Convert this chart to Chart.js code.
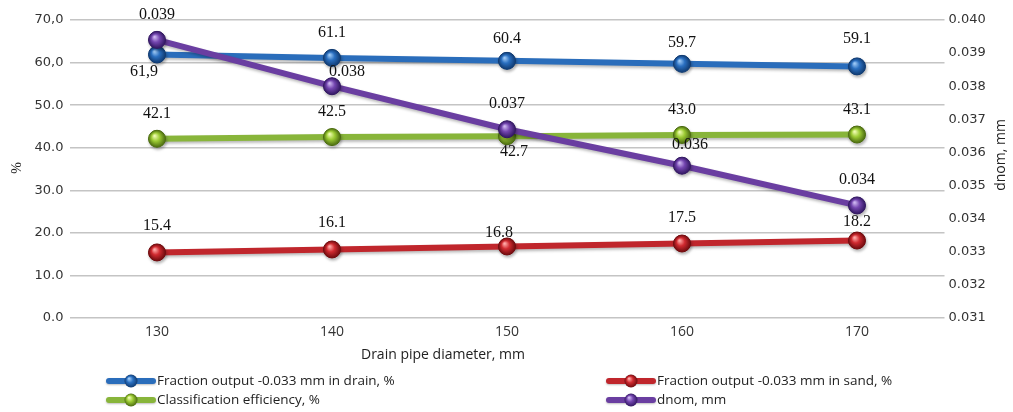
<!DOCTYPE html>
<html>
<head>
<meta charset="utf-8">
<script src="https://cdn.jsdelivr.net/npm/chart.js@4/dist/chart.umd.min.js"></script>
<style>
  html, body { margin: 0; padding: 0; background: #fff; }
  #wrap { width: 1013px; height: 412px; position: relative; }
</style>
</head>
<body>
<div id="wrap"><canvas id="c" width="1013" height="412"></canvas></div>
<script>
// Drain pipe diameter categories (mm)
const categories = ['130', '140', '150', '160', '170'];

// Series values
const drainFraction = [61.9, 61.1, 60.4, 59.7, 59.1];   // %
const sandFraction = [15.4, 16.1, 16.8, 17.5, 18.2];    // %
const efficiency = [42.1, 42.5, 42.7, 43.0, 43.1];      // %
const dnom = [0.0394, 0.0380, 0.0367, 0.0356, 0.0344];  // mm

// Axis tick labels
const leftTickLabels = ['0.0', '10.0', '20.0', '30.0', '40.0', '50.0', '60,0', '70,0'];
const rightTickValues = [0.031, 0.032, 0.033, 0.034, 0.035, 0.036, 0.037, 0.038, 0.039, 0.040];

// Series names
const seriesNames = [
  'Fraction output -0.033 mm in drain, %',
  'Fraction output -0.033 mm in sand, %',
  'Classification efficiency, %',
  'dnom, mm'
];

// Styling
const palette = [
  { line: '#2a6dbb', ball: '#2a6fc0', light: '#9cc8f5', dark: '#103a70' },
  { line: '#c0262c', ball: '#d02a30', light: '#ffaaa8', dark: '#6e0b0e' },
  { line: '#88b53a', ball: '#9ccb34', light: '#eefbb0', dark: '#4a6a10' },
  { line: '#6a3ea1', ball: '#7446b0', light: '#cdb6f0', dark: '#311760' }
];

// Value label placement relative to each point (text centre offset, px)
const labelOffsets = [
  [[-13, 17], [0, -25], [0, -22], [0, -21], [0, -28]],
  [[0, -27], [0, -27], [-8, -14], [0, -26], [0, -19]],
  [[0, -25], [0, -25], [7, 16], [0, -25], [0, -25]],
  [[0, -25], [15, -14], [0, -25], [8, -21], [0, -26]]
];
const labelDecimals = [1, 1, 1, 3];
const commaLabels = [[0], [], [], []];

function makeDataset(i, values, axis, order) {
  return {
    label: seriesNames[i],
    data: values,
    yAxisID: axis,
    order: order,
    borderColor: palette[i].line,
    backgroundColor: palette[i].ball,
    borderWidth: 6,
    tension: 0,
    pointRadius: 8.5,
    pointHoverRadius: 8.5,
    pointBackgroundColor: palette[i].ball,
    pointBorderColor: palette[i].dark,
    pointBorderWidth: 1
  };
}

// Soft shadow under lines, sphere shading on markers, value labels
const seriesDecor = {
  id: 'seriesDecor',
  beforeDatasetDraw(chart, args) {
    const ctx = chart.ctx;
    ctx.save();
    ctx.shadowColor = 'rgba(0,0,0,0.28)';
    ctx.shadowBlur = 3;
    ctx.shadowOffsetX = 1;
    ctx.shadowOffsetY = 2;
  },
  afterDatasetDraw(chart, args) {
    const ctx = chart.ctx;
    ctx.restore();
    const i = args.index;
    const meta = args.meta;
    const c = palette[i];
    meta.data.forEach(pt => {
      const r = 8.5;
      const g = ctx.createRadialGradient(pt.x - 2.5, pt.y - 3, 0.5, pt.x, pt.y, r);
      g.addColorStop(0, c.light);
      g.addColorStop(0.45, c.ball);
      g.addColorStop(1, c.dark);
      ctx.beginPath();
      ctx.arc(pt.x, pt.y, r, 0, Math.PI * 2);
      ctx.fillStyle = g;
      ctx.fill();
    });
  },
  afterDatasetsDraw(chart) {
    const ctx = chart.ctx;
    ctx.save();
    ctx.font = '16px "Liberation Serif", "DejaVu Serif", serif';
    ctx.fillStyle = '#111';
    ctx.textAlign = 'center';
    ctx.textBaseline = 'middle';
    chart.data.datasets.forEach((ds, i) => {
      const meta = chart.getDatasetMeta(i);
      meta.data.forEach((pt, j) => {
        let txt = ds.data[j].toFixed(labelDecimals[i]);
        if (commaLabels[i].includes(j)) txt = txt.replace('.', ',');
        const off = labelOffsets[i][j];
        ctx.fillText(txt, pt.x + off[0], pt.y + off[1]);
      });
    });
    ctx.restore();
  }
};

// Axis titles and the two-column legend
const frameText = {
  id: 'frameText',
  afterDraw(chart) {
    const ctx = chart.ctx;
    ctx.save();
    ctx.fillStyle = '#222';
    ctx.textBaseline = 'middle';

    // left axis title
    ctx.save();
    ctx.translate(17, 168);
    ctx.rotate(-Math.PI / 2);
    ctx.textAlign = 'center';
    ctx.font = '14px "Liberation Serif", serif';
    ctx.fillText('%', 0, 0);
    ctx.restore();

    // right axis title
    ctx.save();
    ctx.translate(1001, 155);
    ctx.rotate(-Math.PI / 2);
    ctx.textAlign = 'center';
    ctx.font = '14px "Open Sans", sans-serif';
    ctx.fillText('dnom, mm', 0, 0);
    ctx.restore();

    // category axis title
    ctx.textAlign = 'center';
    ctx.font = '14px "Open Sans", sans-serif';
    ctx.fillText('Drain pipe diameter, mm', 443, 355);

    // legend
    const slots = [
      { x: 107, y: 381 }, { x: 607, y: 381 },
      { x: 107, y: 400 }, { x: 607, y: 400 }
    ];
    ctx.textAlign = 'left';
    ctx.font = '13.5px "Open Sans", sans-serif';
    chart.data.datasets.forEach((ds, i) => {
      const s = slots[i];
      const c = palette[i];
      ctx.save();
      ctx.shadowColor = 'rgba(0,0,0,0.25)';
      ctx.shadowBlur = 2;
      ctx.shadowOffsetY = 1;
      ctx.strokeStyle = c.line;
      ctx.lineWidth = 6;
      ctx.lineCap = 'round';
      ctx.beginPath();
      ctx.moveTo(s.x + 2, s.y);
      ctx.lineTo(s.x + 46, s.y);
      ctx.stroke();
      ctx.restore();
      const bx = s.x + 24;
      const g = ctx.createRadialGradient(bx - 2, s.y - 2.5, 0.5, bx, s.y, 6.5);
      g.addColorStop(0, c.light);
      g.addColorStop(0.45, c.ball);
      g.addColorStop(1, c.dark);
      ctx.beginPath();
      ctx.arc(bx, s.y, 6.5, 0, Math.PI * 2);
      ctx.fillStyle = g;
      ctx.fill();
      ctx.fillStyle = '#222';
      ctx.fillText(ds.label, s.x + 50, s.y);
    });
    ctx.restore();
  }
};

new Chart(document.getElementById('c'), {
  type: 'line',
  data: {
    labels: categories,
    datasets: [
      makeDataset(0, drainFraction, 'y', 3),
      makeDataset(1, sandFraction, 'y', 2),
      makeDataset(2, efficiency, 'y', 1),
      makeDataset(3, dnom, 'y1', 0)
    ]
  },
  options: {
    responsive: false,
    animation: false,
    events: [],
    layout: { padding: { top: 20, left: 0, right: 0, bottom: 0 } },
    plugins: {
      legend: { display: false },
      tooltip: { enabled: false },
      title: { display: false }
    },
    scales: {
      x: {
        type: 'category',
        offset: true,
        grid: { display: false, drawTicks: false },
        border: { display: false },
        ticks: {
          padding: 6,
          color: '#333',
          font: { family: '"Open Sans", sans-serif', size: 14 }
        },
        afterFit(scale) { scale.height = 94; }
      },
      y: {
        position: 'left',
        min: 0,
        max: 70,
        grid: { color: '#c4c4c4', lineWidth: 1.5, drawTicks: false },
        border: { display: false },
        afterBuildTicks(scale) {
          scale.ticks = leftTickLabels.map((_, k) => ({ value: k * 10 }));
        },
        ticks: {
          padding: 6,
          color: '#333',
          font: { family: '"DejaVu Sans", sans-serif', size: 13 },
          callback: (v, k) => leftTickLabels[k]
        },
        afterFit(scale) { scale.width = 69.5; }
      },
      y1: {
        position: 'right',
        min: 0.031,
        max: 0.040,
        grid: { display: false, drawTicks: false },
        border: { display: false },
        afterBuildTicks(scale) {
          scale.ticks = rightTickValues.map(v => ({ value: v }));
        },
        ticks: {
          padding: 4,
          color: '#333',
          font: { family: '"DejaVu Sans", sans-serif', size: 13 },
          callback: v => Number(v).toFixed(3)
        },
        afterFit(scale) { scale.width = 68.5; }
      }
    }
  },
  plugins: [seriesDecor, frameText]
});
</script>
</body>
</html>
